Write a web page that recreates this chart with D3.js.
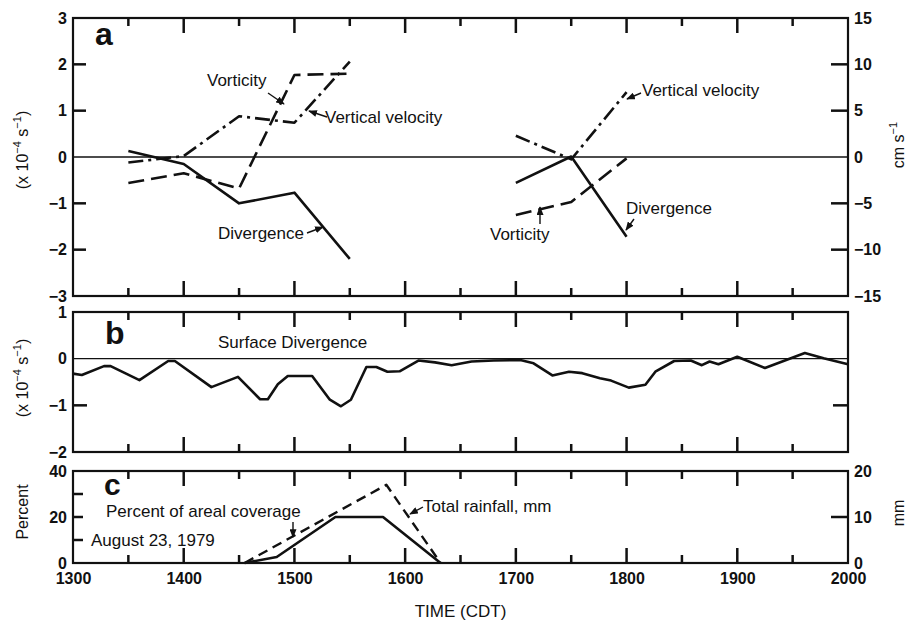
<!DOCTYPE html>
<html>
<head>
<meta charset="utf-8">
<script src="https://cdn.jsdelivr.net/npm/d3@7"></script>
<style>
  body { margin: 0; background: #fff; }
  text { font-family: "Liberation Sans", Arial, sans-serif; fill: #111; }
  .tick text { font-size: 16px; font-weight: bold; }
  .note { font-size: 17px; }
</style>
</head>
<body>
<svg id="chart" width="907" height="626"></svg>
<script>
// panel a: upper-air soundings, two groups with a gap between 1550 and 1700
const timesA = [1350, 1400, 1450, 1500, 1550, 1700, 1750, 1800];
const divergenceA = [0.13, -0.15, -1.0, -0.77, -2.2, -0.56, 0.01, -1.72];
const vorticityA = [-0.56, -0.35, -0.68, 1.77, 1.8, -1.25, -0.97, -0.03];
const verticalVelocityA = [-0.6, 0.1, 4.4, 3.7, 10.3, 2.3, -0.25, 7.0]; // cm s-1

// panel b: surface divergence
const surfaceTimes = [1300, 1308, 1328, 1334, 1360, 1386, 1392, 1425, 1449, 1469, 1476, 1485,
  1494, 1516, 1532, 1542, 1551, 1565, 1574, 1584, 1595, 1612, 1627, 1642, 1660, 1680, 1704,
  1716, 1733, 1748, 1760, 1776, 1786, 1802, 1817, 1826, 1843, 1858, 1868, 1875, 1883, 1900,
  1925, 1961, 1978, 2000];
const surfaceDivergence = [-0.32, -0.35, -0.16, -0.16, -0.46, -0.05, -0.05, -0.61, -0.39, -0.87,
  -0.87, -0.55, -0.37, -0.37, -0.88, -1.02, -0.88, -0.18, -0.18, -0.28, -0.27, -0.04, -0.08,
  -0.14, -0.06, -0.04, -0.03, -0.1, -0.36, -0.28, -0.31, -0.42, -0.47, -0.62, -0.56, -0.28,
  -0.05, -0.04, -0.14, -0.06, -0.12, 0.04, -0.2, 0.12, 0.01, -0.12];

// panel c: rain
const coverageTimes = [1455, 1484, 1537, 1580, 1632];
const coverage = [0, 2.6, 20, 20, 0]; // percent
const rainTimes = [1455, 1583, 1632];
const rainfall = [0, 17, 0]; // mm

const timeLabels = [1300, 1400, 1500, 1600, 1700, 1800, 1900, 2000];
const majorTicks = [1400, 1500, 1600, 1700, 1800, 1900];
const minorTicks = [1350, 1450, 1550, 1650, 1750, 1850, 1950];

const svg = d3.select('#chart');
const left = 73, right = 848;
const ink = '#111';
const intFmt = d3.format('d');

const x = d3.scaleLinear().domain([1300, 2000]).range([left, right]);

const panels = {
  a: { top: 18, bottom: 296 },
  b: { top: 312, bottom: 452 },
  c: { top: 471, bottom: 563 }
};

const yA = d3.scaleLinear().domain([-3, 3]).range([panels.a.bottom, panels.a.top]);
const yAr = d3.scaleLinear().domain([-15, 15]).range([panels.a.bottom, panels.a.top]);
const yB = d3.scaleLinear().domain([-2, 1]).range([panels.b.bottom, panels.b.top]);
const yC = d3.scaleLinear().domain([0, 40]).range([panels.c.bottom, panels.c.top]);
const yCr = d3.scaleLinear().domain([0, 20]).range([panels.c.bottom, panels.c.top]);

svg.append('defs').append('marker')
  .attr('id', 'arrow')
  .attr('viewBox', '0 0 10 8')
  .attr('refX', 9).attr('refY', 4)
  .attr('markerWidth', 9).attr('markerHeight', 7)
  .attr('markerUnits', 'userSpaceOnUse')
  .attr('orient', 'auto')
  .append('path').attr('d', 'M0,0 L10,4 L0,8 Z').attr('fill', ink);

function tickLines(data, x1, y1, x2, y2) {
  svg.append('g').selectAll('line').data(data).join('line')
    .attr('x1', x1).attr('y1', y1).attr('x2', x2).attr('y2', y2)
    .attr('stroke', ink).attr('stroke-width', 2.5);
}

// inward time ticks on the top and bottom edge of a panel
function timeTicksFor(p) {
  const data = majorTicks.map(t => ({ t, len: 15 })).concat(minorTicks.map(t => ({ t, len: 8 })));
  tickLines(data, d => x(d.t), p.bottom, d => x(d.t), d => p.bottom - d.len);
  tickLines(data, d => x(d.t), p.top, d => x(d.t), d => p.top + d.len);
}

function yAxis(scale, side, labels, ticks, len) {
  const x0 = side === 'left' ? left : right;
  const dir = side === 'left' ? 1 : -1;
  const g = svg.append('g').attr('transform', `translate(${x0},0)`);
  const mk = side === 'left' ? d3.axisLeft : d3.axisRight;
  g.call(mk(scale).tickValues(labels).tickSize(0).tickPadding(6).tickFormat(intFmt));
  g.select('.domain').remove();
  tickLines(ticks, x0, d => scale(d), x0 + dir * len, d => scale(d));
}

function frame(p) {
  svg.append('rect')
    .attr('x', left).attr('y', p.top)
    .attr('width', right - left).attr('height', p.bottom - p.top)
    .attr('fill', 'none').attr('stroke', ink).attr('stroke-width', 2.2);
}

function zeroLine(scale) {
  svg.append('line')
    .attr('x1', left).attr('x2', right)
    .attr('y1', scale(0)).attr('y2', scale(0))
    .attr('stroke', ink).attr('stroke-width', 1.3);
}

// split a series into runs where the sampling has a long gap
function runs(times, values, maxGap) {
  const out = [];
  let cur = [];
  times.forEach((t, i) => {
    if (cur.length && t - cur[cur.length - 1][0] > maxGap) { out.push(cur); cur = []; }
    cur.push([t, values[i]]);
  });
  if (cur.length) out.push(cur);
  return out;
}

function drawSeries(times, values, scale, dash, width, maxGap = Infinity) {
  const line = d3.line().x(d => x(d[0])).y(d => scale(d[1]));
  runs(times, values, maxGap).forEach(r => {
    svg.append('path')
      .attr('d', line(r))
      .attr('fill', 'none')
      .attr('stroke', ink)
      .attr('stroke-width', width)
      .attr('stroke-linejoin', 'round')
      .attr('stroke-dasharray', dash);
  });
}

function note(txt, tx, ty) {
  svg.append('text').attr('class', 'note').attr('x', tx).attr('y', ty).text(txt);
}

function arrow(x1, y1, x2, y2) {
  svg.append('line')
    .attr('x1', x1).attr('y1', y1).attr('x2', x2).attr('y2', y2)
    .attr('stroke', ink).attr('stroke-width', 1.4)
    .attr('marker-end', 'url(#arrow)');
}

function rotLabel(cx, cy, build) {
  const t = svg.append('text')
    .attr('transform', `translate(${cx},${cy}) rotate(-90)`)
    .attr('text-anchor', 'middle')
    .style('font-size', '16px');
  build(t);
}

function perSecond(t) {
  t.append('tspan').text('(x 10');
  t.append('tspan').attr('dy', -7).style('font-size', '11px').text('−4');
  t.append('tspan').attr('dy', 7).text(' s');
  t.append('tspan').attr('dy', -7).style('font-size', '11px').text('−1');
  t.append('tspan').attr('dy', 7).text(')');
}

function letter(txt, lx, ly, size) {
  svg.append('text').attr('x', lx).attr('y', ly)
    .style('font-size', size + 'px').style('font-weight', 'bold').text(txt);
}

// ---------- panel a ----------
zeroLine(yA);
timeTicksFor(panels.a);
yAxis(yA, 'left', [-3, -2, -1, 0, 1, 2, 3], [-2, -1, 1, 2], 13);
yAxis(yAr, 'right', [-15, -10, -5, 0, 5, 10, 15], [-10, -5, 5, 10], 17);
drawSeries(timesA, divergenceA, yA, null, 2.6, 100);
drawSeries(timesA, vorticityA, yA, '16,7', 2.6, 100);
drawSeries(timesA, verticalVelocityA, yAr, '15,5,3,5', 2.6, 100);
frame(panels.a);

letter('a', 95, 45, 32);
note('Vorticity', 207, 86);
arrow(268, 93, 284, 104);
note('Vertical velocity', 325, 123);
arrow(327, 117, 309, 111);
note('Divergence', 218, 239);
arrow(307, 233, 323, 227);
note('Vertical velocity', 642, 96);
arrow(641, 93, 627, 99);
note('Vorticity', 490, 240);
arrow(540, 224, 540, 207);
note('Divergence', 626, 214);
arrow(634, 219, 626, 230);

rotLabel(28, 150, perSecond);
rotLabel(904, 145, t => {
  t.append('tspan').text('cm s');
  t.append('tspan').attr('dy', -7).style('font-size', '11px').text('−1');
});

// ---------- panel b ----------
zeroLine(yB);
timeTicksFor(panels.b);
yAxis(yB, 'left', [-2, -1, 0, 1], [-1], 14);
yAxis(yB, 'right', [], [-1], 15);
drawSeries(surfaceTimes, surfaceDivergence, yB, null, 2.6);
frame(panels.b);

letter('b', 105, 344, 32);
note('Surface Divergence', 218, 348);
rotLabel(28, 378, perSecond);

// ---------- panel c ----------
timeTicksFor(panels.c);
yAxis(yC, 'left', [0, 20, 40], [10, 20, 30], 10);
yAxis(yCr, 'right', [0, 10, 20], [10], 17);
drawSeries(coverageTimes, coverage, yC, null, 2.6);
drawSeries(rainTimes, rainfall, yCr, '10,6', 2.4);
frame(panels.c);

letter('c', 104, 495, 30);
note('Percent of areal coverage', 106, 517);
arrow(293, 522, 293, 537);
note('August 23, 1979', 91, 546);
note('Total rainfall, mm', 423, 512);
arrow(423, 507, 410, 514);

rotLabel(28, 512, t => t.text('Percent'));
rotLabel(904, 513, t => t.text('mm'));

// time axis labels
const xl = svg.append('g').attr('transform', `translate(0,${panels.c.bottom})`)
  .call(d3.axisBottom(x).tickValues(timeLabels).tickSize(0).tickPadding(10).tickFormat(intFmt));
xl.select('.domain').remove();

svg.append('text').attr('x', (left + right) / 2).attr('y', 617)
  .attr('text-anchor', 'middle').style('font-size', '17px').text('TIME (CDT)');
</script>
</body>
</html>
